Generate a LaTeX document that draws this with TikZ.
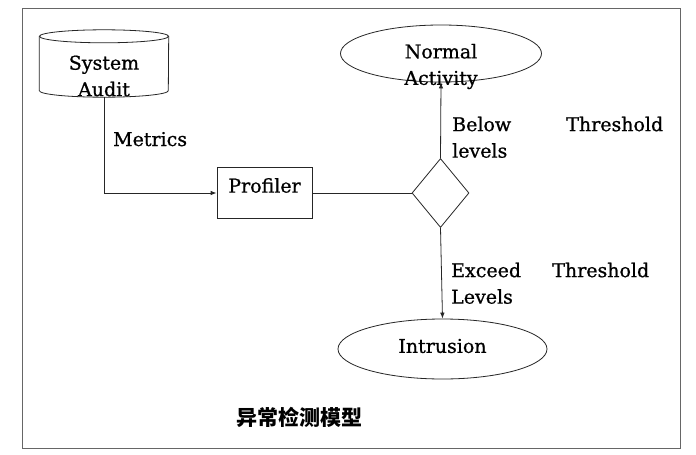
\documentclass[tikz,border=0pt]{standalone}
\usepackage{fontspec}
\setmainfont{DejaVu Serif}[FakeBold=0.8]
\newfontfamily\cjk{Noto Sans CJK SC}
\usetikzlibrary{shapes.geometric,arrows.meta}
\begin{document}
\begin{tikzpicture}[x=1pt,y=-1pt,
  line/.style={draw=black!85, line width=0.8pt},
  arr/.style={line, -{Latex[length=6pt,width=4.5pt]}},
  txt/.style={font=\fontsize{19}{26.5}\selectfont},
  boxtxt/.style={txt, align=center},
  partxt/.style={txt, anchor=north west, inner sep=0pt},
]
\useasboundingbox (0,0) rectangle (696,455);
\fill[white] (0,0) rectangle (696,455);
% frame
\node[draw=black!60, line width=1pt, minimum width=658pt, minimum height=440pt, inner sep=0pt] (frame) at (351,228) {};
% System Audit cylinder
\node[minimum width=129pt, minimum height=67pt, inner sep=0pt,
      label={[boxtxt, yshift=-12.5pt]center:System\\Audit}] (audit) at (104,63.5) {};
\draw[line] ([yshift=-6.5pt]audit.north) ellipse [x radius=64.5pt, y radius=6.5pt];
\draw[line] ([yshift=-6.5pt]audit.north west) -- ([yshift=6.5pt]audit.south west)
   arc[start angle=180, end angle=360, x radius=64.5pt, y radius=6.5pt]
   -- ([yshift=-6.5pt]audit.north east);
% Profiler
\node[line, rectangle, minimum width=95pt, minimum height=51pt, inner sep=0pt,
      label={[txt, yshift=7.5pt]center:Profiler}] (prof) at (264.5,193) {};
% decision diamond
\node[line, diamond, aspect=0.83, minimum width=57pt, minimum height=69pt, inner sep=0pt] (dec) at (440.5,193) {};
% Normal Activity
\node[line, ellipse, minimum width=201pt, minimum height=57pt, inner sep=0pt,
      label={[boxtxt, yshift=-13pt]center:Normal\\Activity}] (normal) at (441,53.5) {};
% Intrusion
\node[line, ellipse, minimum width=209pt, minimum height=60pt, inner sep=0pt,
      label={[txt, yshift=3pt]center:Intrusion}] (intr) at (442.5,349) {};
% connectors
\draw[arr] (audit.south) |- (prof.west);
\draw[line] (prof.east) -- (dec.west);
\draw[arr] (dec.north) -- (normal.south);
\draw[arr] (dec.south) -- (intr.north);
% labels
\node[txt, anchor=base west, inner sep=0pt] (metrics) at (113,146) {Metrics};
\node[partxt, text width=211pt] (below) at (452,116.5) {Below\hfill Threshold\\levels};
\node[partxt, text width=198pt] (exceed) at (451,262.5) {Exceed\hfill Threshold\\Levels};
\node[font=\cjk\bfseries\fontsize{21}{24}\selectfont, anchor=west, inner sep=0pt] (title) at (236,417) {异常检测模型};
\end{tikzpicture}
\end{document}
